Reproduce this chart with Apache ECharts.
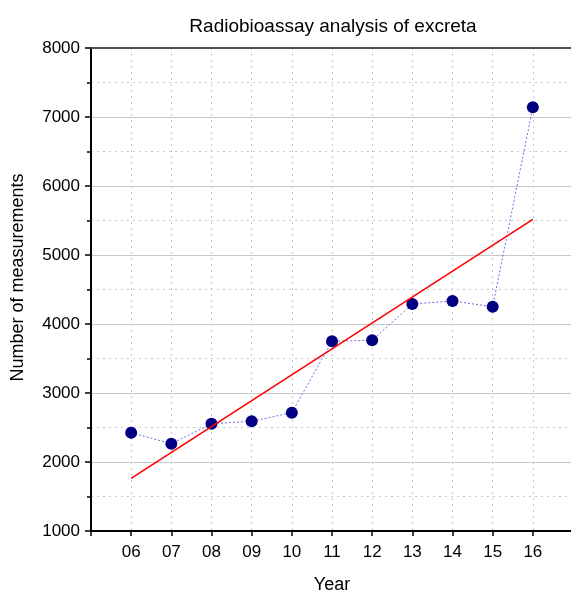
<!DOCTYPE html>
<html>
<head>
<meta charset="utf-8">
<script src="https://cdn.jsdelivr.net/npm/echarts@6/dist/echarts.min.js"></script>
<style>html,body{margin:0;padding:0;background:#fff;overflow:hidden;}#c{width:571px;height:592px;}</style>
</head>
<body>
<div id="c"></div>
<script>
var years = [6, 7, 8, 9, 10, 11, 12, 13, 14, 15, 16];
var measurements = [2424, 2265, 2555, 2590, 2715, 3749, 3764, 4290, 4333, 4251, 7140];
var fitYears = [6, 16];
var fitValues = [1763, 5517];
var yTicks = [1000, 2000, 3000, 4000, 5000, 6000, 7000, 8000];

var font = 'Liberation Sans, Arial, sans-serif';
var chart = echarts.init(document.getElementById('c'), null, {renderer: 'canvas'});
chart.setOption({
  animation: false,
  backgroundColor: '#fff',
  title: {
    text: 'Radiobioassay analysis of excreta',
    left: 328, top: 12, textAlign: 'center',
    textStyle: {fontFamily: font, fontSize: 19, fontWeight: 'normal', color: '#000'}
  },
  grid: {left: 91, top: 48, width: 482, height: 483, containLabel: false, outerBoundsMode: 'none'},
  xAxis: [{
    type: 'value', min: 5, max: 17, interval: 1,
    name: 'Year', nameLocation: 'middle', nameGap: 45,
    nameTextStyle: {fontFamily: font, fontSize: 18, color: '#000'},
    axisLine: {lineStyle: {color: '#000', width: 2}},
    axisTick: {show: true, length: 5, inside: false, lineStyle: {color: '#000', width: 1.5}},
    axisLabel: {fontFamily: font, fontSize: 17, color: '#000', margin: 13,
      formatter: function(v){ return (v >= years[0] && v <= years[years.length-1]) ? (v < 10 ? '0' + v : '' + v) : ''; }},
    splitLine: {show: true, lineStyle: {color: '#c8c8c8', type: [2, 4], width: 1}}
  }, {
    type: 'value', min: 5, max: 17, position: 'top',
    axisLine: {show: true, lineStyle: {color: '#505050', width: 2}},
    axisTick: {show: false}, axisLabel: {show: false}, splitLine: {show: false}
  }],
  yAxis: {
    type: 'value', min: yTicks[0], max: yTicks[yTicks.length-1], interval: 1000,
    name: 'Number of measurements', nameLocation: 'middle', nameGap: 64,
    nameTextStyle: {fontFamily: font, fontSize: 18, color: '#000', padding: [0, 0, 0, 24]},
    axisLine: {show: true, lineStyle: {color: '#000', width: 2}},
    axisTick: {show: true, length: 6, lineStyle: {color: '#000', width: 1.5}},
    minorTick: {show: true, splitNumber: 2, length: 4, lineStyle: {color: '#000', width: 1.5}},
    axisLabel: {fontFamily: font, fontSize: 17, color: '#000', margin: 11,
      formatter: function(v){ return '' + v; }},
    splitLine: {show: true, lineStyle: {color: '#c8c8c8', width: 1}},
    minorSplitLine: {show: true, lineStyle: {color: '#c8c8c8', type: [2, 4], width: 1}}
  },
  series: [{
    type: 'line',
    data: years.map(function(y, i){ return [y, measurements[i]]; }),
    symbol: 'circle', symbolSize: 12,
    itemStyle: {color: '#000080'},
    lineStyle: {color: '#7070e0', width: 1, type: [2, 2]},
    z: 3
  }, {
    type: 'line',
    data: fitYears.map(function(y, i){ return [y, fitValues[i]]; }),
    symbol: 'none',
    lineStyle: {color: '#ff0000', width: 1.6},
    z: 4
  }]
});
</script>
</body>
</html>
